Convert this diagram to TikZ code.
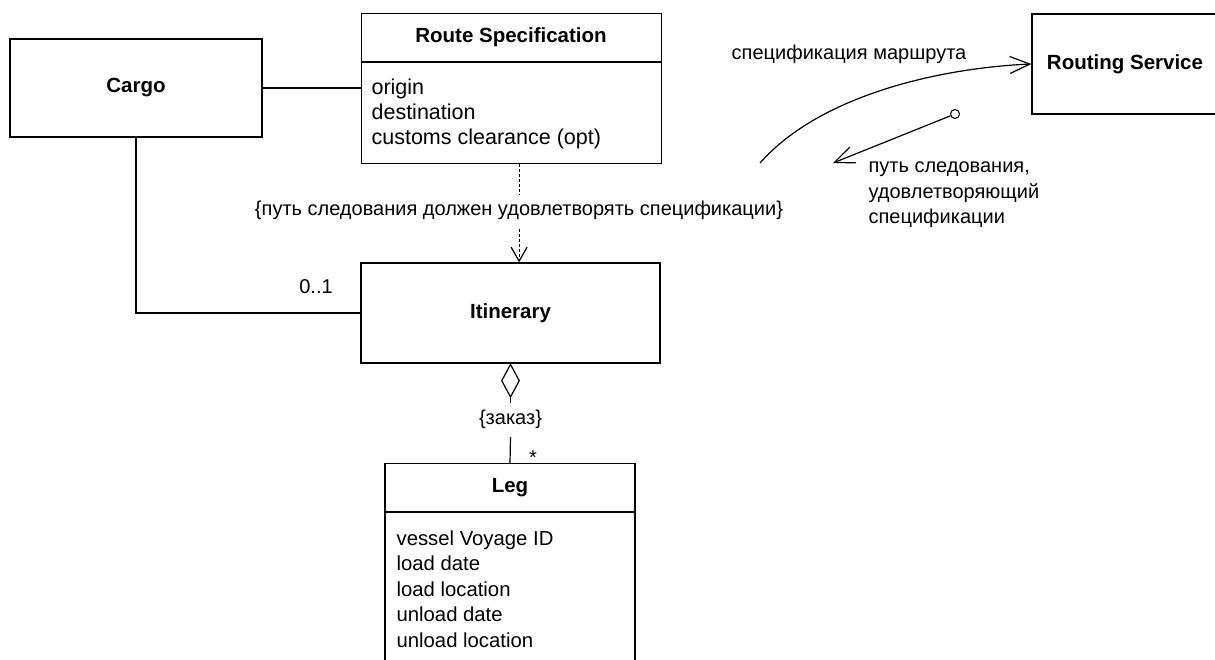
\documentclass[tikz,border=0pt]{standalone}
\usepackage{fontspec}
\setmainfont{Liberation Sans}
\usetikzlibrary{shapes.geometric, arrows.meta}
\newcommand\fattr{\fontsize{21.5pt}{25pt}\selectfont}
\newcommand\fleg{\fontsize{20.3pt}{25pt}\selectfont}
\newcommand\fcyr{\fontsize{20pt}{25pt}\selectfont}
\newcommand\ftitle{\fontsize{20.5pt}{25pt}\selectfont\bfseries}
\begin{document}
\begin{tikzpicture}[x=1pt, y=-1pt, line width=1.2pt,
  umlbox/.style={draw, inner sep=0pt},
  ttl/.style={font=\ftitle, inner sep=0pt},
  attr/.style={font=\fattr, anchor=base west, inner sep=0pt},
  legattr/.style={font=\fleg, anchor=base west, inner sep=0pt},
  cyr/.style={font=\fcyr, inner sep=0pt},
  gaplabel/.style={font=\fcyr, fill=white, inner xsep=2pt, inner ysep=7pt, text height=14pt, text depth=5pt},
  openarrow/.style={-{Straight Barb[length=20pt, width=17pt]}},
  dep/.style={dash pattern=on 3pt off 2pt, -{Straight Barb[length=14pt, width=16pt]}}
]
\useasboundingbox (0,0) rectangle (1215,659);
\clip (0,0) rectangle (1215,659);

% Cargo
\node[umlbox, minimum width=252pt, minimum height=98pt] (cargo) at (136,88) {};
\node[ttl] (cargotxt) at (cargo.center) {Cargo};

% Route Specification
\node[umlbox, minimum width=300pt, minimum height=150pt, anchor=north west] (spec) at (361,13) {};
\coordinate (specdivL) at (361,62);
\coordinate (specdivR) at (661,62);
\draw (specdivL) -- (specdivR);
\node[ttl] (spectitle) at (511,37.5) {Route Specification};
\node[attr] (sa1) at (371,94) {origin};
\node[attr] (sa2) at (371,119) {destination};
\node[attr] (sa3) at (371,144) {customs clearance (opt)};

\draw (cargo.east) -- (cargo.east -| spec.west);

% Itinerary
\node[umlbox, minimum width=299pt, minimum height=100pt] (itin) at (510.5,313) {};
\node[ttl] (itintxt) at (itin.center) {Itinerary};

\draw (cargo.south) |- (itin.west);
\node[cyr, anchor=base] (mult01) at (316,293) {0..1};

% dependency
\draw[dep] ([xshift=7.5pt]spec.south) -- ([xshift=7.5pt]spec.south |- itin.north);
\node[gaplabel] (constraint) at (519,211) {\{путь следования должен удовлетворять спецификации\}};

% aggregation
\node[diamond, draw, minimum width=18pt, minimum height=33pt, inner sep=0pt, anchor=north] (agg) at (itin.south) {};
\node[gaplabel] (zakaz) at (510.5,420) {\{заказ\}};
\draw (agg.south) -- (zakaz.north);

% Leg
\node[umlbox, minimum width=250pt, minimum height=222pt, anchor=north] (leg) at (510,463) {};
\coordinate (legdivL) at (385,512);
\coordinate (legdivR) at (635,512);
\draw (legdivL) -- (legdivR);
\node[ttl] (legtitle) at (510,487.5) {Leg};
\draw (zakaz.south) -- (leg.north);
\node[cyr, anchor=base] (star) at (533,464) {*};
\node[legattr] (la1) at (396,545) {vessel Voyage ID};
\node[legattr] (la2) at (396,570.5) {load date};
\node[legattr] (la3) at (396,596) {load location};
\node[legattr] (la4) at (396,621.5) {unload date};
\node[legattr] (la5) at (396,647) {unload location};

% Routing Service
\node[umlbox, minimum width=186pt, minimum height=100pt] (routing) at (1125,64) {};
\node[ttl] (routingtxt) at (routing.center) {Routing Service};

\coordinate (cstart) at (760,163);
\draw[openarrow] (cstart) .. controls (820,95) and (940,68) .. (routing.west);
\node[cyr, anchor=base] (specmsg) at (849,59) {спецификация маршрута};

\node[circle, draw, minimum size=9pt, inner sep=0pt, line width=1pt] (lolli) at (955,114) {};
\coordinate (rtip) at (833,163);
\draw[openarrow] (lolli) -- (rtip);
\node[cyr, anchor=base west] (ret1) at (868,172) {путь следования,};
\node[cyr, anchor=base west] (ret2) at (868,198) {удовлетворяющий};
\node[cyr, anchor=base west] (ret3) at (868,223) {спецификации};
\end{tikzpicture}
\end{document}
